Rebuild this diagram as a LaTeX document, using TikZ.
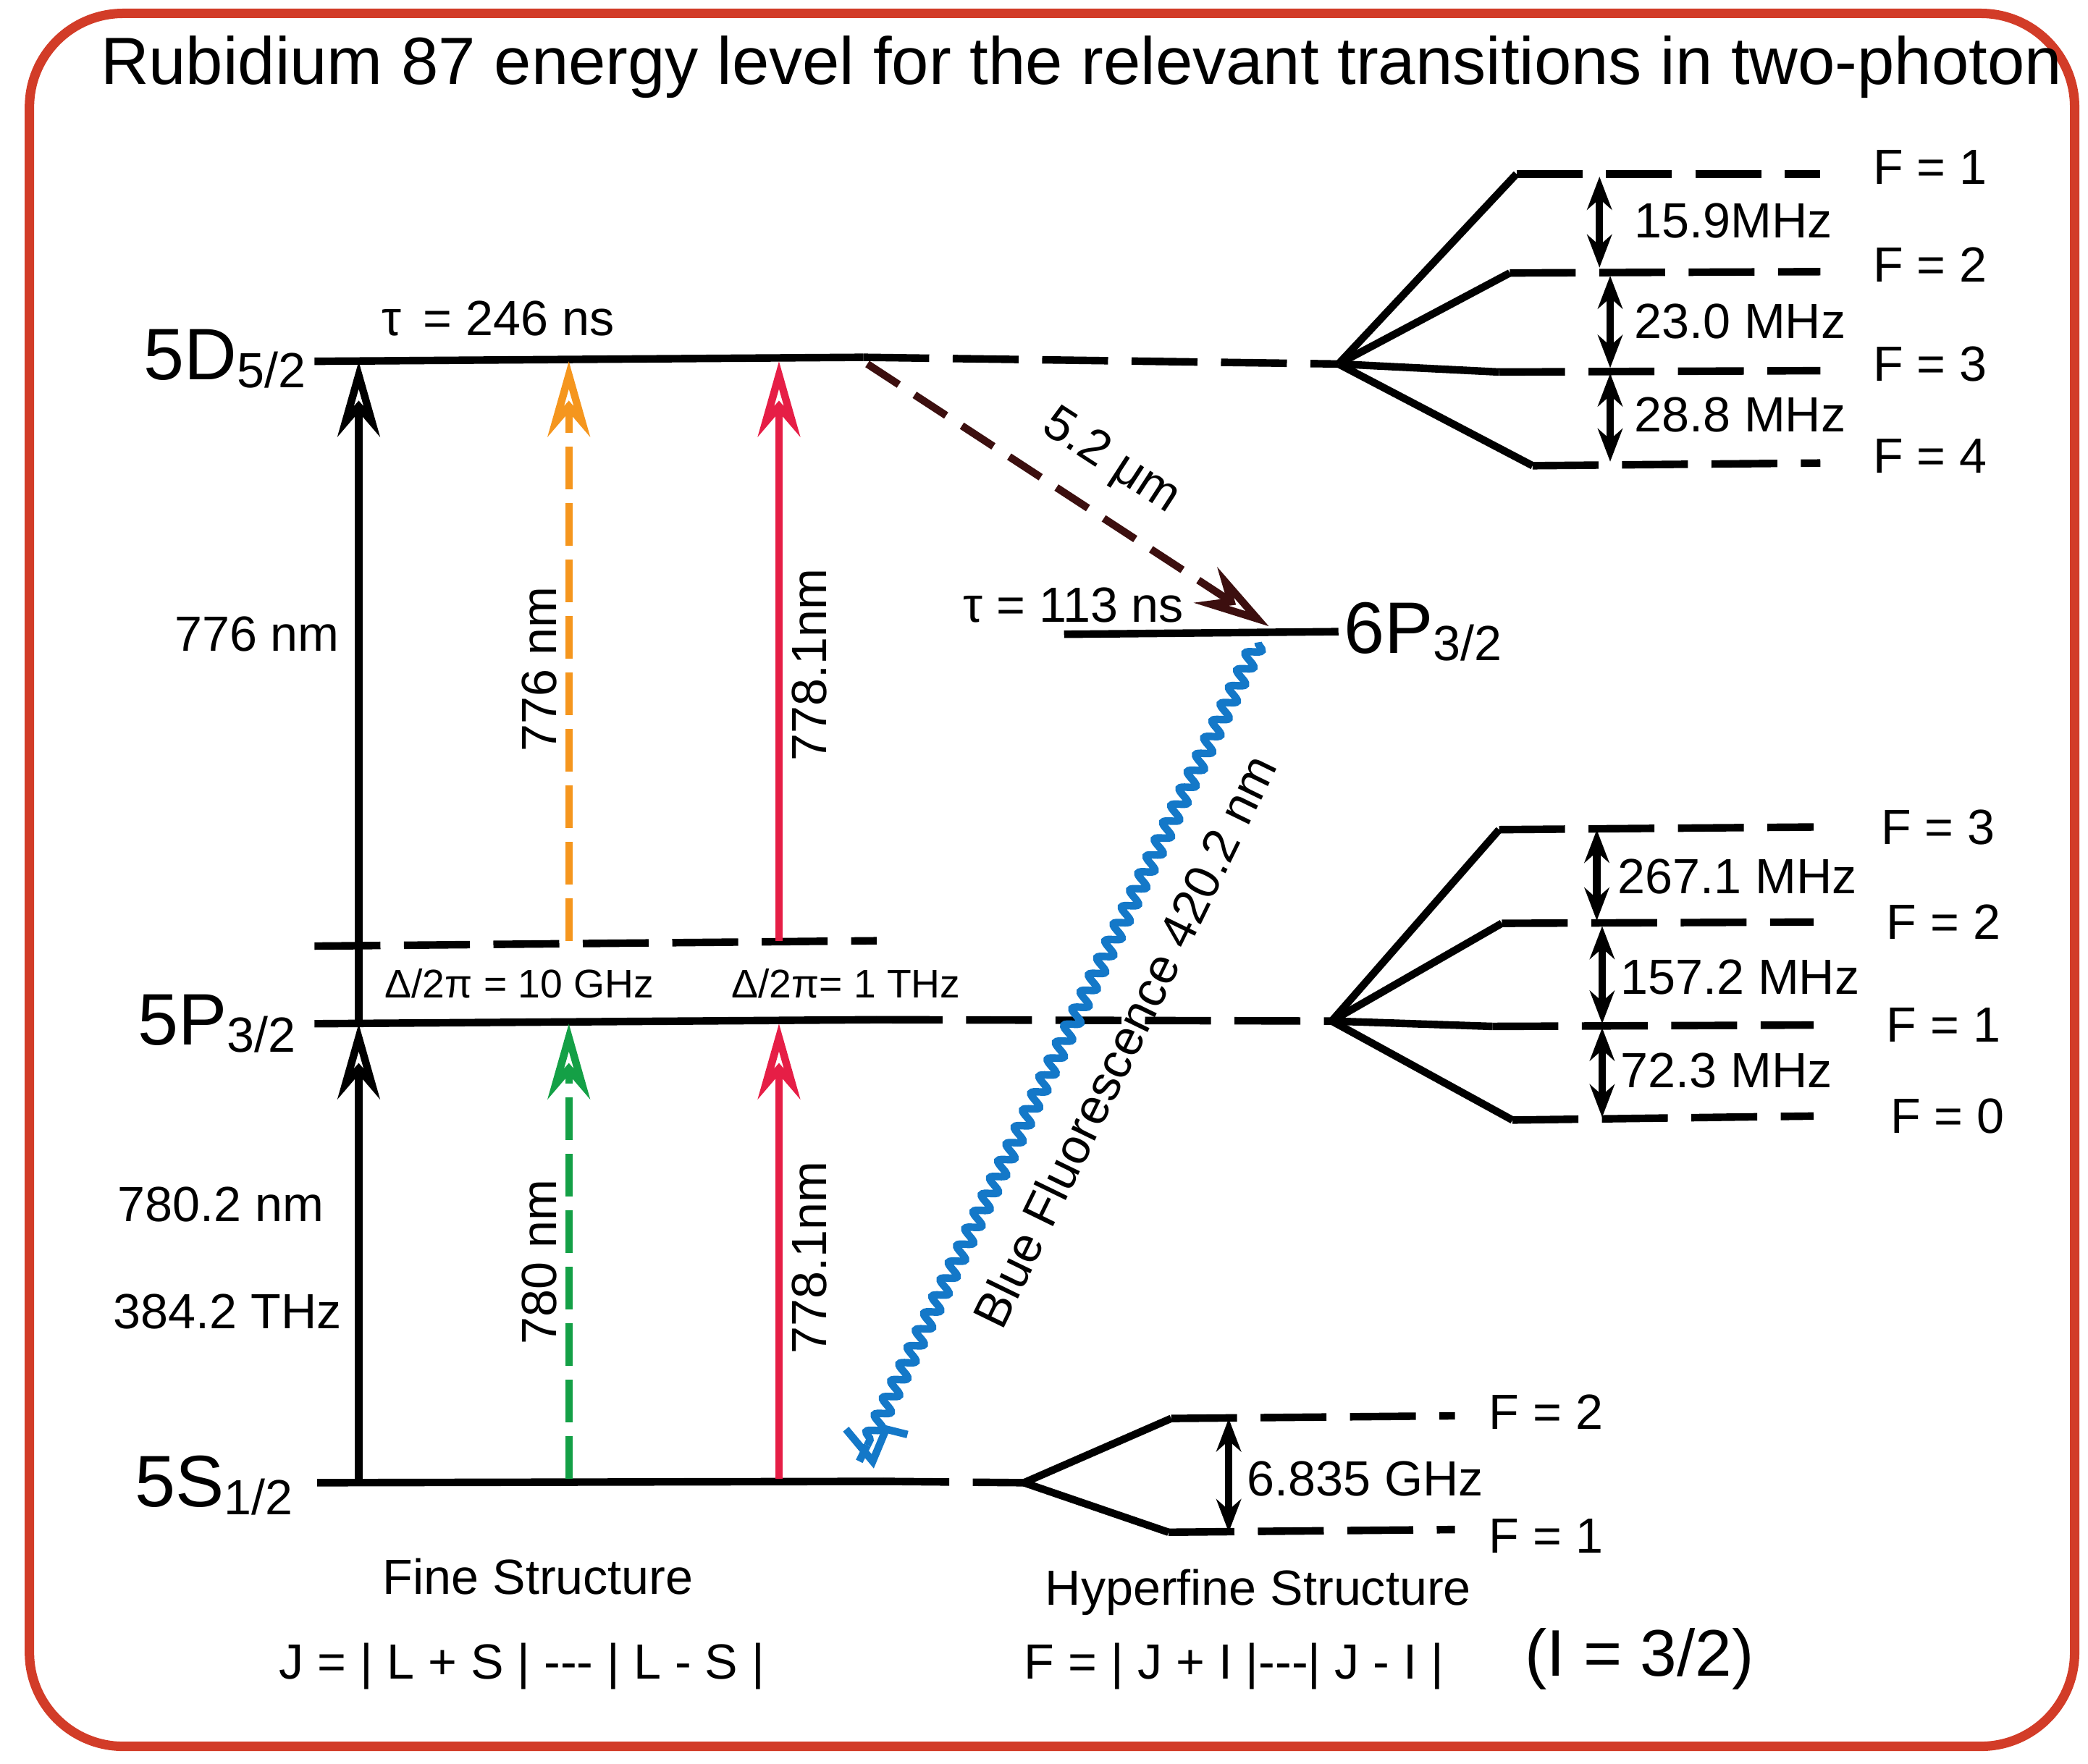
\documentclass[tikz,border=0pt]{standalone}
\usepackage{fontspec}
\setmainfont{Liberation Sans}
\usetikzlibrary{positioning, arrows.meta, decorations.pathmorphing}
\definecolor{frame}{RGB}{210,60,40}
\definecolor{orng}{RGB}{245,150,30}
\definecolor{rred}{RGB}{230,30,70}
\definecolor{grn}{RGB}{20,160,70}
\definecolor{blu}{RGB}{20,120,200}
\definecolor{brwn}{RGB}{60,15,15}
\tikzset{
	lvl/.style={line width=1.6pt},
	dlvl/.style={line width=1.6pt, dash pattern=on 14pt off 5pt},
	up/.style={-{Stealth[open, length=16pt, width=9pt]}, line width=1.6pt},
	gap/.style={{Stealth[length=7pt]}-{Stealth[length=7pt]}, line width=1.6pt},
	txt/.style={font=\fontsize{10.5}{12}\selectfont, inner sep=1pt},
	big/.style={font=\fontsize{15.5}{17}\selectfont, inner sep=1pt}
}
\newcommand{\lsub}[1]{\raisebox{-0.2ex}{\fontsize{10.5}{12}\selectfont #1}}
\begin{document}
\begin{tikzpicture}[x=0.01cm, y=-0.01cm]
	\useasboundingbox (0,0) rectangle (1560,1318);
	\draw[frame, line width=2pt, rounded corners=0.7cm] (22,10) rectangle (1550,1305);
	\node[font=\fontsize{14.2}{16}\selectfont] (title) at (808,50) {Rubidium 87 energy level for the relevant transitions in two-photon};

	% fine structure levels
	\coordinate (dA) at (235,270); \coordinate (dB) at (645,267); \coordinate (dC) at (1000,272);
	\coordinate (vA) at (235,707); \coordinate (vB) at (655,703);
	\coordinate (pA) at (235,765); \coordinate (pB) at (655,762); \coordinate (pC) at (995,763);
	\coordinate (sA) at (237,1108); \coordinate (sB) at (660,1107); \coordinate (sC) at (765,1108);
	\coordinate (qA) at (795,474); \coordinate (qB) at (1000,472);
	\draw[lvl] (dA) -- (dB);
	\draw[dlvl] (dB) -- (dC);
	\draw[dlvl] (vA) -- (vB);
	\draw[lvl] (pA) -- (pB);
	\draw[dlvl] (pB) -- (pC);
	\draw[lvl] (sA) -- (sB);
	\draw[dlvl] (sB) -- (sC);
	\draw[lvl] (qA) -- (qB);

	\node[big] (l5d) at (168,268) {5D\lsub{5/2}};
	\node[big] (l5p) at (162,765) {5P\lsub{3/2}};
	\node[big] (l5s) at (160,1110) {5S\lsub{1/2}};
	\node[big] (l6p) at (1063,472) {6P\lsub{3/2}};
	\node[txt] (tau1) at (372,238) {τ\, = 246 ns};
	\node[txt] (tau2) at (802,452) {τ = 113 ns};

	% excitation arrows
	\draw[up] (268,1108) -- (268,765);
	\draw[up] (268,765) -- (268,270);
	\draw[up, orng, dash pattern=on 9pt off 3pt] (425,703) -- (425,270);
	\draw[up, rred] (582,703) -- (582,270);
	\draw[up, grn, dash pattern=on 9pt off 3pt] (425,1105) -- (425,765);
	\draw[up, rred] (582,1105) -- (582,765);
	\node[txt] (w1) at (192,474) {776 nm};
	\node[txt] (w2) at (165,900) {780.2 nm};
	\node[txt] (w3) at (170,980) {384.2 THz};
	\node[txt, rotate=90] (w4) at (403,500) {776 nm};
	\node[txt, rotate=90] (w5) at (605,497) {778.1nm};
	\node[txt, rotate=90] (w6) at (403,943) {780 nm};
	\node[txt, rotate=90] (w7) at (605,940) {778.1nm};
	\node[txt, font=\fontsize{8.5}{10}\selectfont] (det1) at (388,735) {Δ/2π = 10 GHz};
	\node[txt, font=\fontsize{8.5}{10}\selectfont] (det2) at (632,735) {Δ/2π= 1 THz};

	% decay
	\draw[brwn, line width=1.6pt, dash pattern=on 8pt off 4pt, -{Stealth[open, length=16pt, width=9pt]}] (648,272) -- (948,468);
	\node[txt, rotate=-33] (ir) at (830,345) {5.2 μm};
	\draw[blu, line width=1.6pt, decorate, decoration={snake, amplitude=1.5pt, segment length=4pt, post length=0pt}] (940,480) -- (648,1080);
	\draw[blu, line width=1.6pt] (648,1080) -- (642,1092) (632,1068) -- (652,1092) -- (662,1068) -- (678,1072);
	\node[txt, rotate=64] (blue) at (840,778) {Blue Fluorescence 420.2 nm};

	% hyperfine 5D
	\foreach \a/\b/\e/\f/\n in {1133/130/1360/130/1, 1128/204/1360/203/2, 1120/278/1360/277/3, 1145/348/1360/346/4} {
		\draw[lvl] (dC) -- (\a,\b);
		\draw[dlvl] (\a,\b) -- (\e,\f);
		\node[txt] at (1442,\f-5) {F = \n};
	}
	\draw[gap] (1195,132) -- (1195,200);
	\draw[gap] (1203,206) -- (1203,275);
	\draw[gap] (1203,279) -- (1203,345);
	\node[txt] (h1) at (1295,165) {15.9MHz};
	\node[txt] (h2) at (1300,240) {23.0 MHz};
	\node[txt] (h3) at (1300,310) {28.8 MHz};

	% hyperfine 5P
	\foreach \a/\b/\e/\f/\n/\x in {1120/620/1355/618/3/1448, 1122/690/1355/689/2/1452, 1115/767/1355/766/1/1452, 1130/837/1355/834/0/1455} {
		\draw[lvl] (pC) -- (\a,\b);
		\draw[dlvl] (\a,\b) -- (\e,\f);
		\node[txt] at (\x,\f) {F = \n};
	}
	\draw[gap] (1193,620) -- (1193,688);
	\draw[gap] (1197,692) -- (1197,765);
	\draw[gap] (1197,768) -- (1197,835);
	\node[txt] (h4) at (1298,655) {267.1 MHz};
	\node[txt] (h5) at (1300,730) {157.2 MHz};
	\node[txt] (h6) at (1290,800) {72.3 MHz};

	% hyperfine 5S
	\draw[lvl] (sC) -- (875,1060);
	\draw[lvl] (sC) -- (873,1145);
	\draw[dlvl] (875,1060) -- (1087,1058);
	\draw[dlvl] (873,1145) -- (1087,1143);
	\draw[gap] (918,1060) -- (918,1145);
	\node[txt] (h7) at (1020,1105) {6.835 GHz};
	\node[txt] (f52) at (1155,1055) {F = 2};
	\node[txt] (f51) at (1155,1148) {F = 1};

	% captions
	\node[txt] (fine) at (402,1178) {Fine Structure};
	\node[txt] (jrule) at (390,1245) {J = | L + S | -{}-{}- | L - S |};
	\node[txt] (hyp) at (940,1190) {Hyperfine Structure};
	\node[txt] (frule) at (922,1245) {F = | J + I |-{}-{}-| J - I |};
	\node[font=\fontsize{14}{16}\selectfont] (ispin) at (1225,1240) {(I = 3/2)};
\end{tikzpicture}
\end{document}
